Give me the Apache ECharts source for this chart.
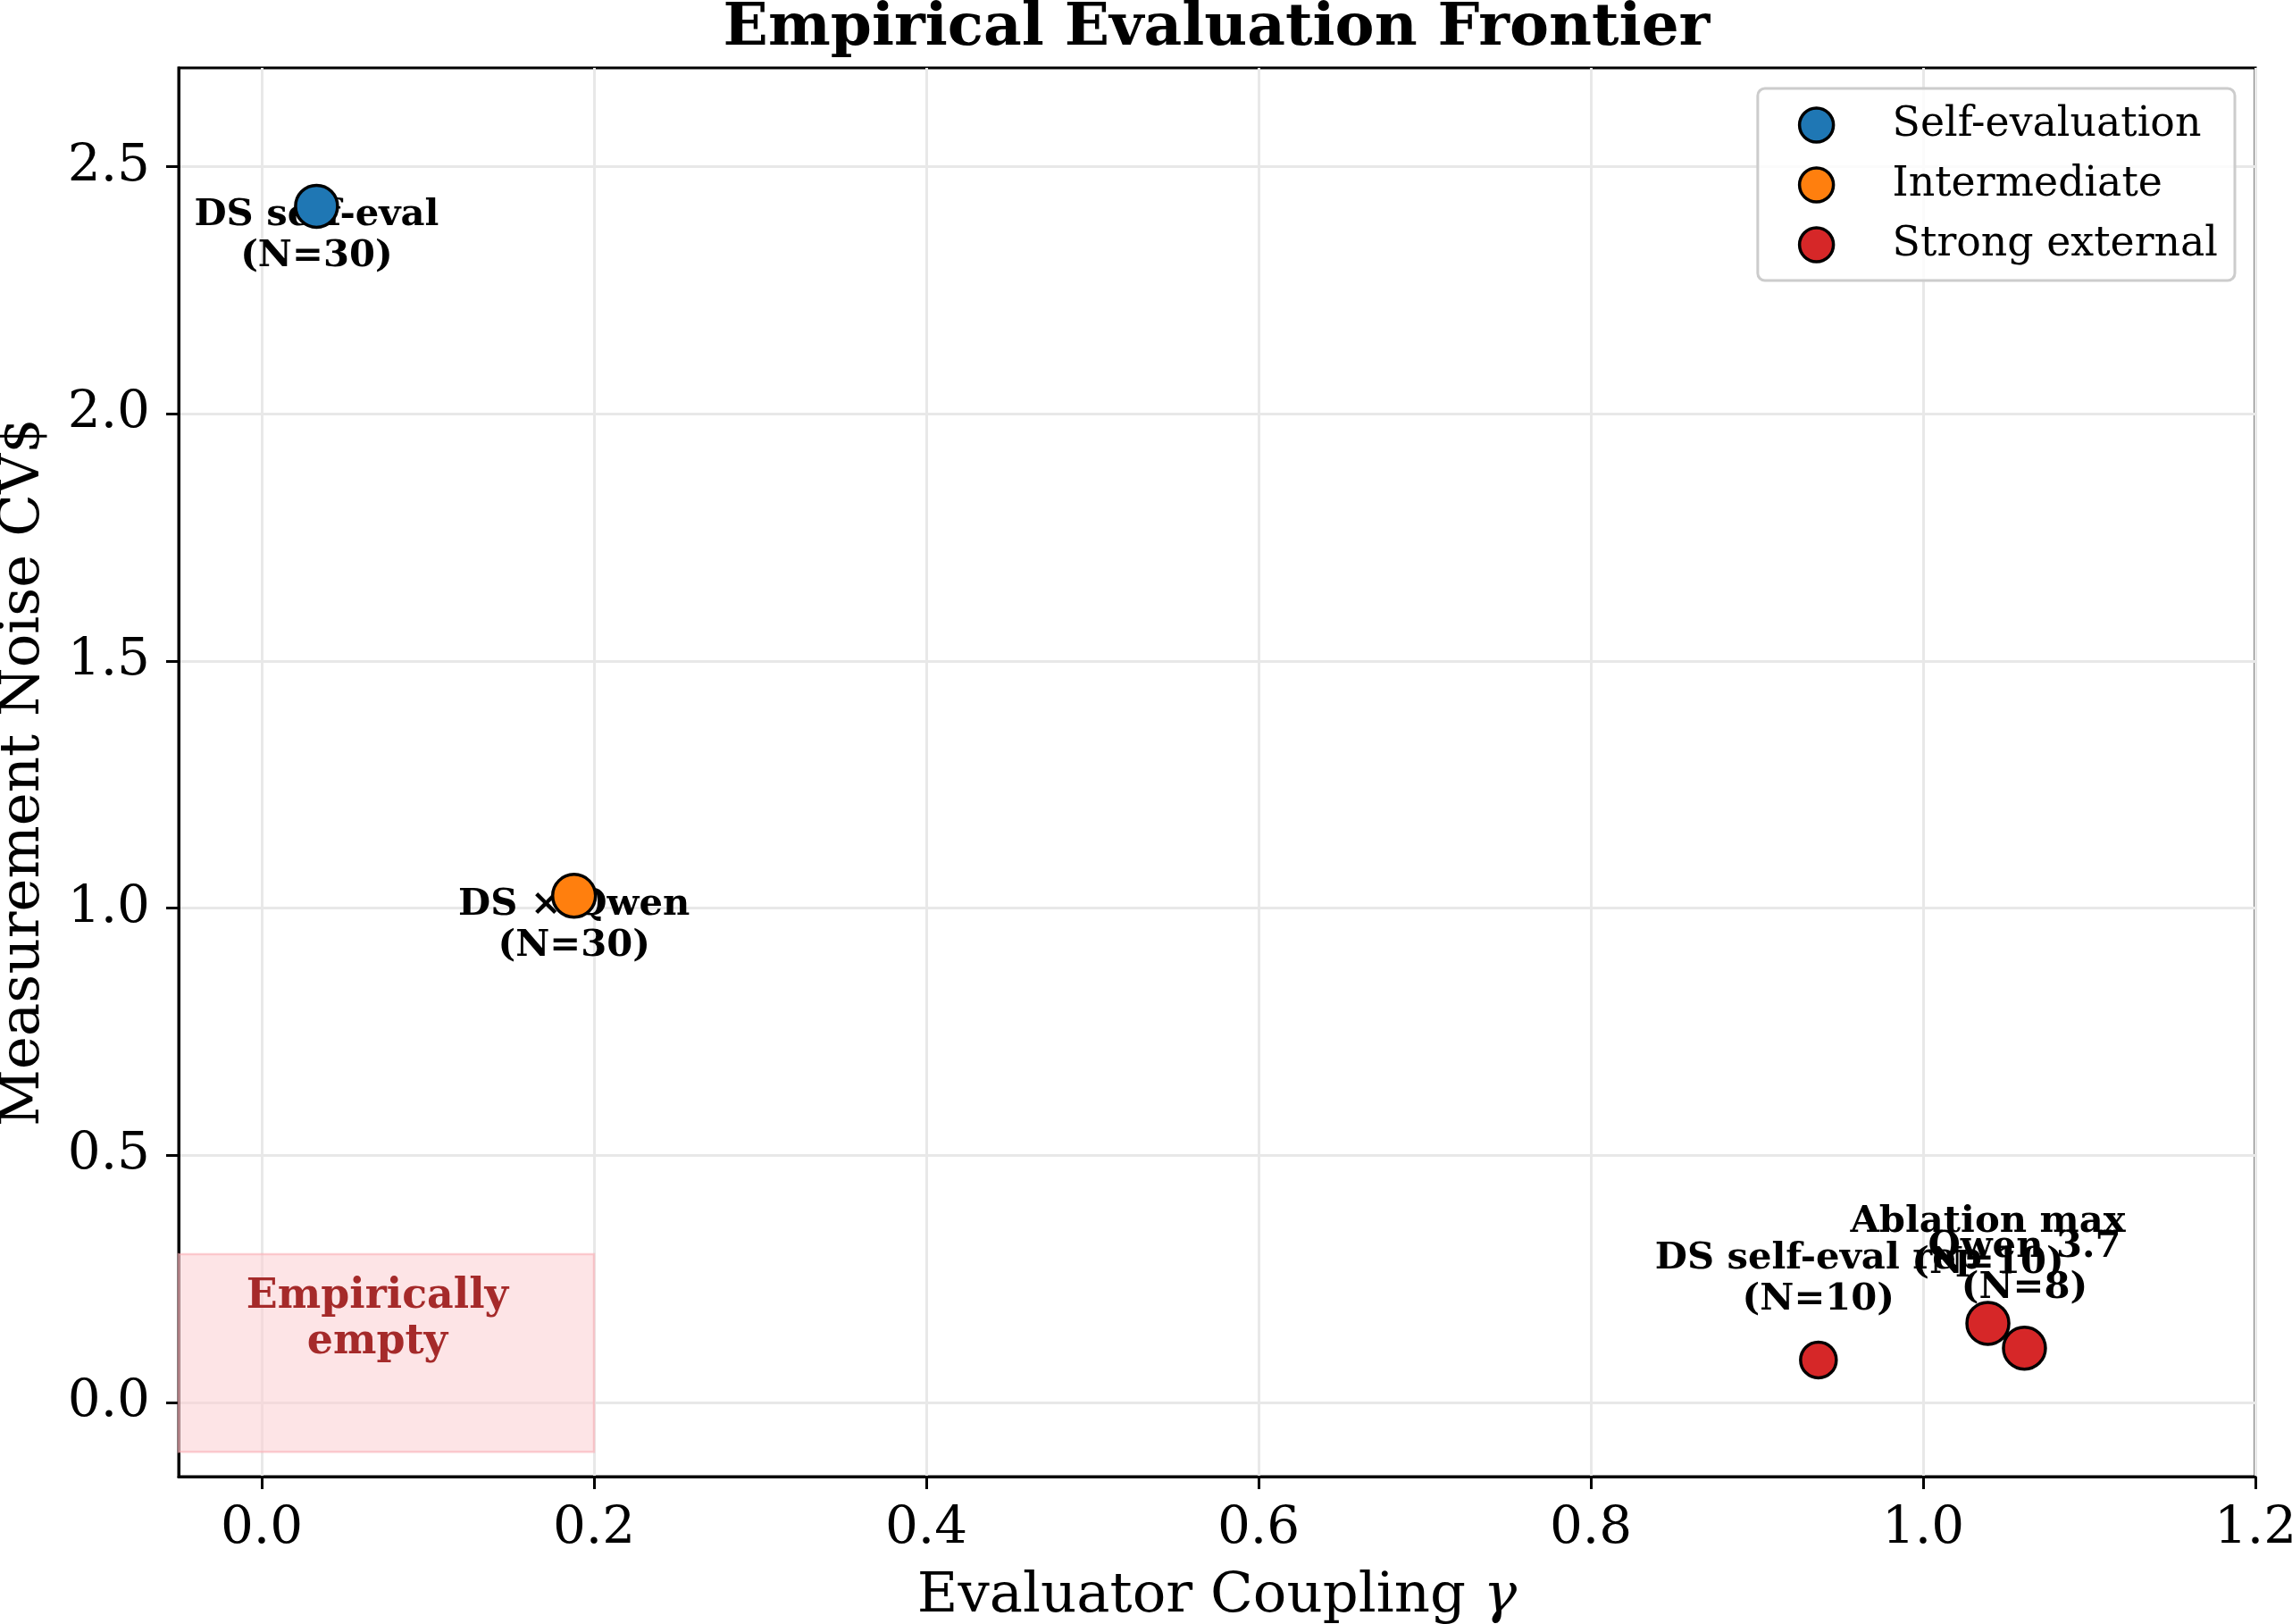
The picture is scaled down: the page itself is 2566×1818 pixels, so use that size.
<!DOCTYPE html>
<html>
<head>
<meta charset="utf-8">
<script src="https://cdn.jsdelivr.net/npm/echarts@6/dist/echarts.min.js"></script>
<style>
  html, body { margin: 0; padding: 0; background: #ffffff; }
  #chart { width: 2566px; height: 1818px; }
</style>
</head>
<body>
<div id="chart"></div>
<script>
// ---- Data ----
const groupNames = ['Self-evaluation', 'Intermediate', 'Strong external'];
const pointLabels = ['DS self-eval\n(N=30)', 'DS \u00d7 Qwen\n(N=30)', 'DS self-eval rep\n(N=10)', 'Ablation max\n(N=10)', 'Qwen 3.7\n(N=8)'];
const pointGroup = [0, 1, 2, 2, 2];
const couplingGamma = [0.033, 0.188, 0.937, 1.039, 1.061];
const noiseCV = [2.42, 1.025, 0.086, 0.16, 0.11];
const xTickValues = [0.0, 0.2, 0.4, 0.6, 0.8, 1.0, 1.2];
const yTickValues = [0.0, 0.5, 1.0, 1.5, 2.0, 2.5];
const emptyRegionX = [-0.05, 0.2];
const emptyRegionY = [-0.1, 0.3];
const emptyRegionText = 'Empirically\nempty';

// ---- Styles ----
const FONT = 'DejaVu Serif';
const groupColors = ['#1f77b4', '#ff7f0e', '#d62728'];
const markerDiameter = [47, 48, 40, 47, 47];
const labelShiftY = [33, 33, -90];

const chart = echarts.init(document.getElementById('chart'), null, { renderer: 'canvas' });

const series = [];
groupNames.forEach((g, gi) => {
  const idx = [];
  pointGroup.forEach((pg, i) => { if (pg === gi) idx.push(i); });
  // label layer (beneath markers)
  series.push({
    name: '_lbl' + gi,
    type: 'scatter',
    z: 3,
    silent: true,
    symbol: 'rect',
    symbolSize: 2,
    itemStyle: { color: 'rgba(0,0,0,0)', opacity: 1 },
    data: idx.map(i => ({ value: [couplingGamma[i], noiseCV[i]], name: pointLabels[i] })),
    label: {
      show: true,
      position: [1, 1 + labelShiftY[gi]],
      formatter: p => p.name,
      fontFamily: FONT,
      fontWeight: 'bold',
      fontSize: 41.7,
      lineHeight: 46,
      color: '#000000',
      opacity: 1,
      textBorderWidth: 0,
      align: 'center',
      verticalAlign: 'middle'
    }
  });
  // markers
  series.push({
    name: g,
    type: 'scatter',
    z: 4,
    symbol: 'circle',
    symbolSize: (val, params) => markerDiameter[idx[params.dataIndex]],
    itemStyle: { color: groupColors[gi], borderColor: '#000', borderWidth: 3.5, opacity: 1 },
    emphasis: { disabled: true },
    data: idx.map(i => [couplingGamma[i], noiseCV[i]])
  });
});

// empty region (markArea on a carrier series)
series.push({
  name: '_region',
  type: 'scatter',
  z: 2,
  silent: true,
  data: [],
  markArea: {
    silent: true,
    itemStyle: { color: 'rgba(252, 205, 210, 0.55)', borderColor: 'rgba(250, 175, 182, 0.6)', borderWidth: 2.5 },
    label: {
      show: true,
      position: 'inside',
      offset: [-10, -37],
      fontFamily: FONT,
      fontWeight: 'bold',
      fontSize: 45.8,
      lineHeight: 51,
      color: '#a52a2a',
      opacity: 1,
      align: 'center'
    },
    data: [[
      { name: emptyRegionText, coord: [emptyRegionX[0], emptyRegionY[0]] },
      { coord: [emptyRegionX[1], emptyRegionY[1]] }
    ]]
  }
});

const option = {
  backgroundColor: '#ffffff',
  animation: false,
  title: {
    text: 'Empirical Evaluation Frontier',
    left: 1362,
    textAlign: 'center',
    top: 0,
    padding: 0,
    textStyle: { fontFamily: FONT, fontWeight: 'bold', fontSize: 66, color: '#000' }
  },
  legend: {
    data: groupNames.map(n => ({ name: n, icon: 'circle' })),
    orient: 'vertical',
    right: 64,
    top: 99,
    padding: [18, 19, 17, 45],
    itemWidth: 38,
    itemHeight: 38,
    itemGap: 21,
    backgroundColor: 'rgba(255,255,255,0.8)',
    borderColor: '#cccccc',
    borderWidth: 3,
    borderRadius: 8,
    textStyle: { fontFamily: FONT, fontSize: 45.8, color: '#000', padding: [0, 0, 0, 61] },
    itemStyle: { borderColor: '#000', borderWidth: 3.5 }
  },
  grid: {
    left: 200, right: 41, top: 76, bottom: 165,
    outerBoundsMode: 'none',
    containLabel: false,
    show: true, borderColor: '#000', borderWidth: 3, backgroundColor: 'transparent'
  },
  xAxis: {
    type: 'value',
    min: -0.05,
    max: 1.2,
    name: 'Evaluator Coupling {i|\u03b3}',
    nameLocation: 'middle',
    nameGap: 103,
    nameTextStyle: {
      fontFamily: FONT, fontSize: 62.5, color: '#000',
      rich: { i: { fontFamily: FONT, fontStyle: 'italic', fontSize: 62.5, color: '#000' } }
    },
    axisLine: { show: true, onZero: false, lineStyle: { color: '#000', width: 3 } },
    axisTick: { show: true, inside: false, length: 14, lineStyle: { color: '#000', width: 3 }, customValues: xTickValues },
    axisLabel: { show: true, margin: 30, fontFamily: FONT, fontSize: 58, color: '#000', customValues: xTickValues, formatter: v => v.toFixed(1) },
    splitLine: { show: true, lineStyle: { color: '#e8e8e8', width: 3 } }
  },
  yAxis: {
    type: 'value',
    min: -0.15,
    max: 2.7,
    name: 'Measurement Noise CV$',
    nameLocation: 'middle',
    nameGap: 142,
    nameTextStyle: { fontFamily: FONT, fontSize: 62.5, color: '#000' },
    axisLine: { show: true, onZero: false, lineStyle: { color: '#000', width: 3 } },
    axisTick: { show: true, inside: false, length: 14, lineStyle: { color: '#000', width: 3 }, customValues: yTickValues },
    axisLabel: { show: true, margin: 32, fontFamily: FONT, fontSize: 58, color: '#000', customValues: yTickValues, formatter: v => v.toFixed(1) },
    splitLine: { show: true, lineStyle: { color: '#e8e8e8', width: 3 } }
  },
  series: series
};

chart.setOption(option);
</script>
</body>
</html>
